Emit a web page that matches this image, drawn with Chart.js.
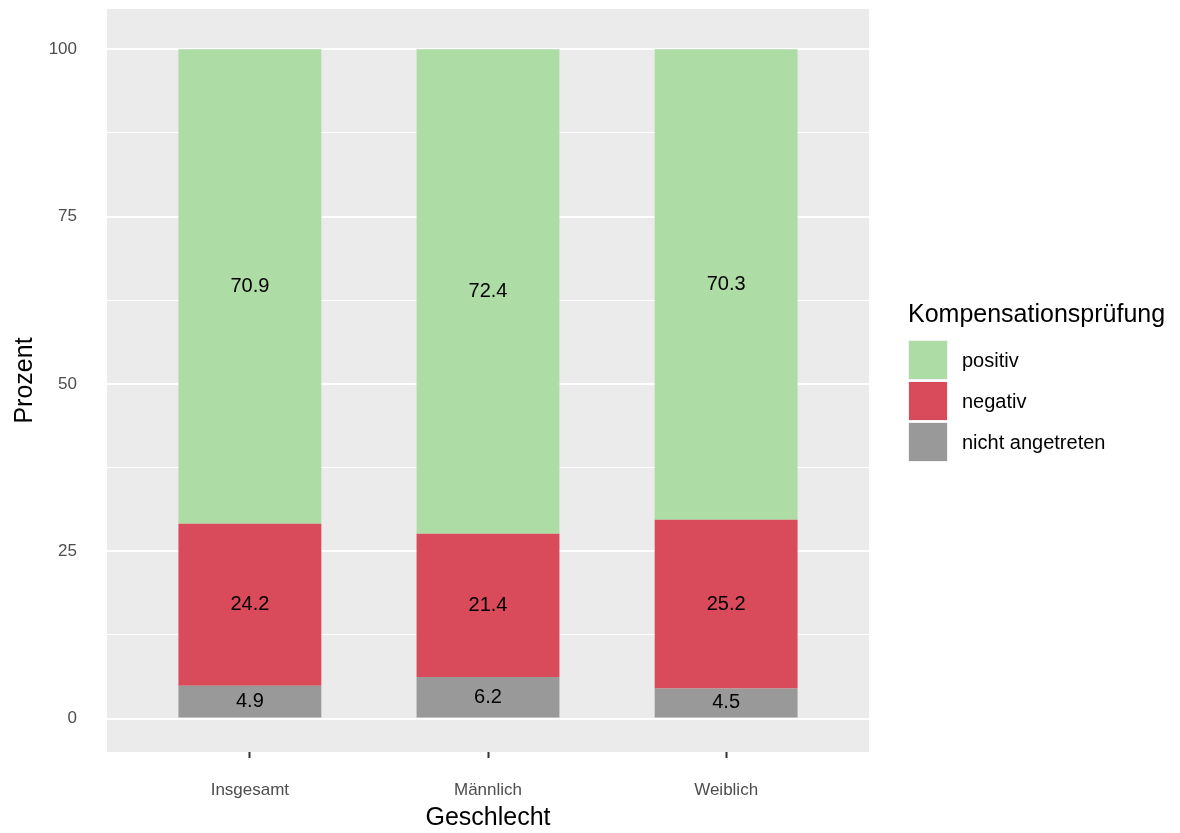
<!DOCTYPE html>
<html>
  <head>
    <meta charset="utf-8">
    <script src="https://cdn.jsdelivr.net/npm/chart.js"></script>
    <style>
      body { margin: 0; background: #ffffff; }
    </style>
  </head>
  <body>
    <canvas id="chart" width="1180" height="833"></canvas>
    <script>
      // Daten
      const categories = ['Insgesamt', 'Männlich', 'Weiblich'];
      const nichtAngetreten = [4.9, 6.2, 4.5];
      const negativ = [24.2, 21.4, 25.2];
      const positiv = [70.9, 72.4, 70.3];
      const yTicks = [0, 25, 50, 75, 100];
      const yMinor = [12.5, 37.5, 62.5, 87.5];

      const legendTitle = 'Kompensationsprüfung';
      const FONT = "'Liberation Sans', Arial, sans-serif";
      Chart.defaults.font.family = FONT;

      function toPoints(values) {
        return values.map((v, i) => ({ x: i + 1, y: v }));
      }

      // Panel-Hintergrund, Balkenbeschriftung, Legende
      const ggPlugin = {
        id: 'gg',
        beforeDraw(chart) {
          const { ctx, chartArea: a } = chart;
          ctx.save();
          ctx.fillStyle = '#EBEBEB';
          ctx.fillRect(a.left, a.top, a.right - a.left, a.bottom - a.top);
          ctx.restore();
        },
        afterDatasetsDraw(chart) {
          const ctx = chart.ctx;
          ctx.save();
          ctx.font = '20px ' + FONT;
          ctx.fillStyle = '#000000';
          ctx.textAlign = 'center';
          ctx.textBaseline = 'middle';
          chart.data.datasets.forEach((ds, di) => {
            chart.getDatasetMeta(di).data.forEach((bar, i) => {
              const y = (bar.y + bar.base) / 2;
              ctx.fillText(ds.data[i].y.toFixed(1), bar.x, y);
            });
          });
          ctx.restore();
        },
        afterDraw(chart) {
          const ctx = chart.ctx;
          ctx.save();
          ctx.fillStyle = '#000000';
          ctx.font = '25px ' + FONT;
          ctx.textAlign = 'left';
          ctx.textBaseline = 'alphabetic';
          ctx.fillText(legendTitle, 908, 322);
          const items = chart.data.datasets.slice().reverse();
          items.forEach((ds, i) => {
            const top = 340 + i * 41;
            ctx.fillStyle = '#F2F2F2';
            ctx.fillRect(908, top, 40, 40);
            ctx.fillStyle = ds.backgroundColor;
            ctx.fillRect(909, top + 1, 38, 38);
            ctx.fillStyle = '#000000';
            ctx.font = '20px ' + FONT;
            ctx.textBaseline = 'middle';
            ctx.fillText(ds.label, 962, top + 21);
          });
          ctx.restore();
        }
      };

      new Chart(document.getElementById('chart'), {
        type: 'bar',
        data: {
          datasets: [
            { label: 'nicht angetreten', data: toPoints(nichtAngetreten), backgroundColor: '#999999' },
            { label: 'negativ', data: toPoints(negativ), backgroundColor: '#D94A5A' },
            { label: 'positiv', data: toPoints(positiv), backgroundColor: '#ADDCA4' }
          ]
        },
        options: {
          responsive: false,
          animation: false,
          barPercentage: 0.6,
          categoryPercentage: 1,
          layout: { padding: { top: 9, right: 311, left: 0, bottom: 0 } },
          plugins: {
            legend: { display: false },
            tooltip: { enabled: false }
          },
          scales: {
            x: {
              type: 'linear',
              stacked: true,
              min: 0.4,
              max: 3.6,
              offset: false,
              afterBuildTicks(scale) {
                scale.ticks = categories.map((c, i) => ({ value: i + 1 }));
              },
              afterFit(scale) {
                scale.height = 81;
                scale.paddingLeft = 0;
                scale.paddingRight = 0;
              },
              ticks: {
                autoSkip: false,
                maxRotation: 0,
                padding: 22,
                color: '#4D4D4D',
                font: { size: 17 },
                callback: (v) => categories[v - 1]
              },
              grid: {
                offset: false,
                drawOnChartArea: false,
                drawTicks: true,
                tickLength: 6,
                tickColor: '#333333',
                tickWidth: 2
              },
              border: { display: false },
              title: {
                display: true,
                text: 'Geschlecht',
                color: '#000000',
                font: { size: 25 },
                padding: { top: 0, bottom: 0 }
              }
            },
            y: {
              stacked: true,
              min: -5,
              max: 106,
              afterBuildTicks(scale) {
                scale.ticks = yTicks.concat(yMinor).sort((a, b) => a - b).map(v => ({ value: v }));
              },
              afterFit(scale) {
                scale.width = 107;
                scale.paddingTop = 0;
                scale.paddingBottom = 0;
              },
              ticks: {
                autoSkip: false,
                padding: 30,
                color: '#4D4D4D',
                font: { size: 17 },
                callback: (v) => yTicks.includes(v) ? String(v) : ''
              },
              grid: {
                color: '#FFFFFF',
                lineWidth: (c) => (c.tick && yTicks.includes(c.tick.value)) ? 2 : 1,
                drawTicks: false
              },
              border: { display: false },
              title: {
                display: true,
                text: 'Prozent',
                color: '#000000',
                font: { size: 25 },
                padding: { top: 10, bottom: 0 }
              }
            }
          }
        },
        plugins: [ggPlugin]
      });
    </script>
  </body>
</html>
